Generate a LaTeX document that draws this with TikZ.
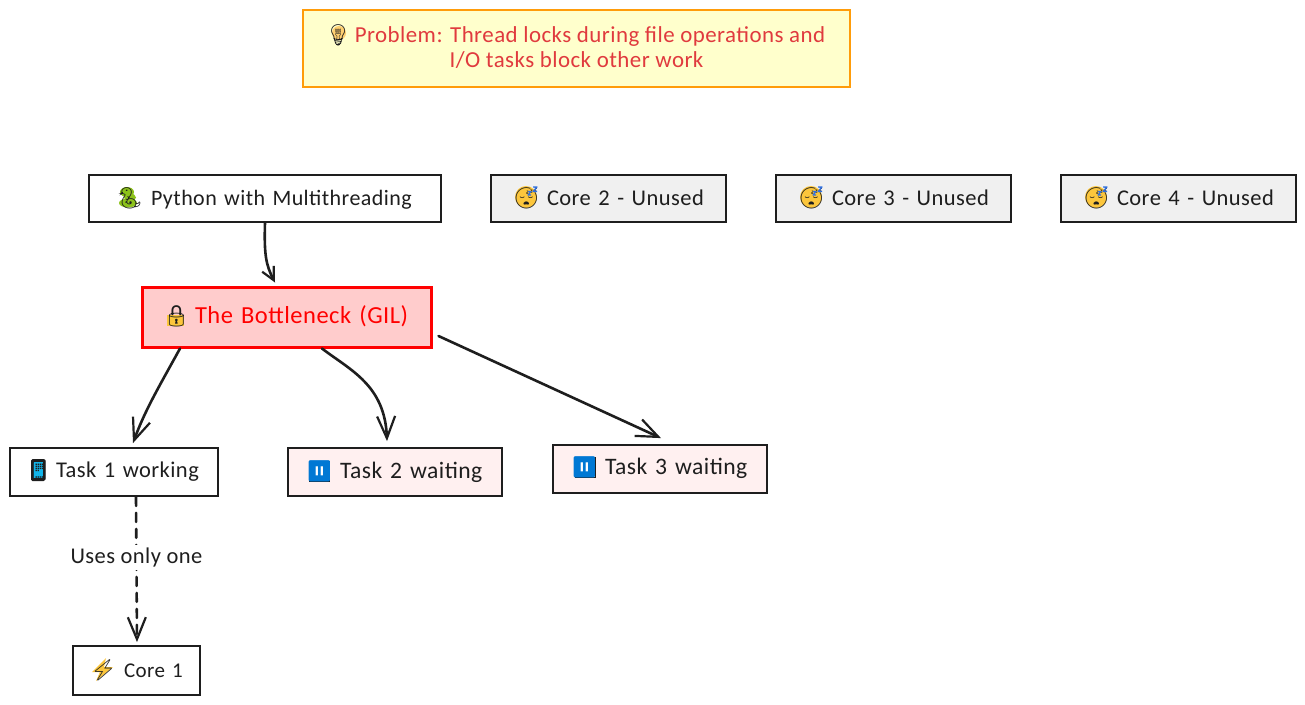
\documentclass[tikz,border=0pt]{standalone}
\usepackage{fontspec}
\setmainfont{Carlito}[LetterSpace=2]
\newfontfamily\emofont{Noto Emoji}
\usetikzlibrary{arrows.meta,backgrounds,calc}
\definecolor{ink}{HTML}{1E1E1E}
\definecolor{noteline}{HTML}{FF9C0A}
\definecolor{notefill}{HTML}{FFFFCC}
\definecolor{notetext}{HTML}{E03A3E}
\definecolor{idlefill}{HTML}{F0F0F0}
\definecolor{waitfill}{HTML}{FFF0F0}
\definecolor{gilfill}{HTML}{FFCCCC}
\definecolor{gold}{HTML}{FCC63C}
\definecolor{bulbgold}{HTML}{FFCF70}
\definecolor{pauseblue}{HTML}{0078D4}
\definecolor{snakegreen}{HTML}{8CC21A}
\definecolor{screenblue}{HTML}{12B5EA}
\definecolor{zblue}{HTML}{2F6FE0}
\newcommand{\emo}[2]{\makebox[#1][l]{\fontsize{21}{25}\emofont\selectfont\color{ink}#2}}
\newcommand{\lift}[2]{\raisebox{#1}[\height][\depth]{#2}}
\newcommand{\boxfill}[2]{\fill[#2] (#1.south west) rectangle (#1.north east);}
\newcommand{\zzz}[1]{\draw[zblue,line width=1.2pt,line join=round]
  (#1-5,191.5) -- (#1-2,191.5) -- (#1-5,195) -- (#1-2,195)
  (#1,187) -- (#1+4,187) -- (#1,191.5) -- (#1+4,191.5);}
\tikzset{
  x=1pt,y=-1pt,
  fs/.style={font=\fontsize{#1}{25}\selectfont},
  base/.style={draw=ink,line width=1.8pt,rectangle,inner ysep=0pt,text=ink,align=left,fs=22},
  plainbox/.style={base},
  gilbox/.style={base,draw=red,line width=3pt,text=red,fs=24.5},
  notebox/.style={base,draw=noteline,line width=2pt,text=notetext,align=center,fs=22.9},
  link/.style={draw=ink,line width=2.6pt,line cap=round,
    -{Straight Barb[length=22pt,width=18pt,line width=2.2pt]}},
  shortlink/.style={link,-{Straight Barb[length=13pt,width=13pt,line width=2.2pt]}},
  dashedlink/.style={link,dashed,dash pattern=on 9pt off 7pt},
  edgetext/.style={fill=white,text=ink,inner xsep=1pt,inner ysep=3pt,fs=22.5}
}
\begin{document}
\begin{tikzpicture}
\useasboundingbox (0,0) rectangle (1305,704);
% boxes: centre at pixel coordinates, padding fixes where the emoji starts
\node[notebox,minimum width=547pt,minimum height=77pt] (note) at (576.5,48.5)
  {\lift{-1pt}{\begin{tabular}{@{}c@{}}\emo{27pt}{\hspace*{-3pt}💡}Problem: Thread locks during file operations and\\I/O tasks block other work\end{tabular}}};
\node[plainbox,inner xsep=27pt,text width=298pt,minimum height=47pt] (python) at (265,198.5)
  {\emo{35pt}{🐍}Python with Multithreading};
\node[plainbox,fs=22.5,inner xsep=22pt,text width=191pt,minimum height=47pt] (core2) at (608.5,198.5)
  {\emo{34pt}{😴}Core 2 - Unused};
\node[plainbox,fs=22.5,inner xsep=22pt,text width=191pt,minimum height=47pt] (core3) at (893.5,198.5)
  {\emo{34pt}{😴}Core 3 - Unused};
\node[plainbox,fs=22.5,inner xsep=22pt,text width=191pt,minimum height=47pt] (core4) at (1178.5,198.5)
  {\emo{34pt}{😴}Core 4 - Unused};
\node[gilbox,inner xsep=21pt,text width=247pt,minimum height=60pt] (gil) at (286.5,317)
  {\lift{1pt}{\emo{32pt}{🔒}The Bottleneck (GIL)}};
\node[plainbox,fs=22.5,inner xsep=16pt,text width=176pt,minimum height=48pt] (task1) at (114,472)
  {\lift{1pt}{\emo{30pt}{📱}Task 1 working}};
\node[plainbox,fs=23.6,inner xsep=18pt,text width=178pt,minimum height=48pt] (task2) at (395,472)
  {\emo{34pt}{\color{pauseblue}⏸}Task 2 waiting};
\node[plainbox,fs=23.6,inner xsep=18pt,text width=178pt,minimum height=48pt] (task3) at (660,469)
  {\lift{1pt}{\emo{34pt}{\color{pauseblue}⏸}Task 3 waiting}};
\node[plainbox,fs=21,inner xsep=17pt,text width=93pt,minimum height=49pt] (core1) at (136.5,670.5)
  {\emo{34pt}{⚡}Core 1};
% fills and the colours of the emoji lie under the outlines
\begin{scope}[on background layer]
  \boxfill{note}{notefill}
  \boxfill{core2}{idlefill}
  \boxfill{core3}{idlefill}
  \boxfill{core4}{idlefill}
  \boxfill{gil}{gilfill}
  \boxfill{task2}{waitfill}
  \boxfill{task3}{waitfill}
  \fill[bulbgold] (339,33) circle (7);
  \fill[snakegreen] (128,203) ellipse (9 and 4.5);
  \fill[snakegreen] (127,192) ellipse (7 and 5);
  \fill[snakegreen] (130,197.5) ellipse (6 and 4);
  \fill[gold] (526,197) circle (11);
  \fill[gold] (811,197) circle (11);
  \fill[gold] (1096,197) circle (11);
  \fill[gold] (167,315) rectangle (184,326);
  \fill[ink,rounded corners=1.5pt] (31,459) rectangle (45,481);
  \fill[screenblue] (33,462) rectangle (43,478);
  \filldraw[draw=ink,line width=1pt,fill=white] (309,461) rectangle (329,481);
  \filldraw[draw=ink,line width=1pt,fill=white] (575,457) rectangle (595,477);
  \fill[gold] (106,658) -- (92,672) -- (100,672) -- (96,681) -- (113,667) -- (104,667) -- cycle;
\end{scope}
\zzz{533}
\zzz{818}
\zzz{1103}
% connectors
\draw[shortlink] (python.south) .. controls (264,255) and (266,265) .. ([shift={(-11.5,-3)}]gil.north);
\draw[link] ([xshift=-106.5]gil.south) .. controls (160,385) and (145,410) .. ([shift={(19,-4)}]task1.north);
\draw[link] ([xshift=35.5]gil.south) .. controls (350,370) and (385,385) .. ([shift={(-8,-6)}]task2.north);
\draw[link] ([shift={(6,19)}]gil.east) -- ([shift={(1,-6)}]task3.north);
\draw[dashedlink] ([xshift=22]task1.south) -- node[edgetext,pos=.418] (uses) {Uses only one} ([shift={(0.5,-3)}]core1.north);
\end{tikzpicture}
\end{document}
